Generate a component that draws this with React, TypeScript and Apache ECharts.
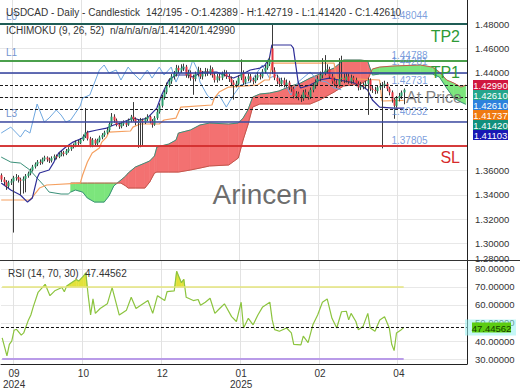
import React, { useEffect, useRef } from 'react';
import * as echarts from 'echarts';

const FONT = '"Liberation Sans", Arial, Helvetica, sans-serif';

const slotCount = 195;
const xTickIdx = [5, 34, 67, 100, 133, 166];
const xTickText = ['09\n2024', '10', '12', '01\n2025', '02', '04'];

const priceTicks = [1.3, 1.32, 1.34, 1.36, 1.38, 1.4, 1.42, 1.44, 1.46, 1.48];
const priceTickLabels = [1.3, 1.32, 1.34, 1.36, 1.44, 1.46, 1.48];
const priceFloorLabel = 1.28;
const rsiTicks = [30, 40, 50, 60, 70, 80];

// [open, close, low, high]
const candles: number[][] = [
  [1.3560, 1.3525, 1.3505, 1.3575], [1.3525, 1.3505, 1.3480, 1.3545], [1.3505, 1.3470, 1.3440, 1.3520],
  [1.3470, 1.3500, 1.3455, 1.3515], [1.3500, 1.3510, 1.3480, 1.3530], [1.3510, 1.3540, 1.3090, 1.3555],
  [1.3540, 1.3545, 1.3515, 1.3570], [1.3545, 1.3525, 1.3500, 1.3560], [1.3525, 1.3515, 1.3400, 1.3540],
  [1.3515, 1.3530, 1.3410, 1.3550], [1.3530, 1.3555, 1.3420, 1.3570], [1.3555, 1.3575, 1.3540, 1.3590],
  [1.3575, 1.3600, 1.3560, 1.3615], [1.3600, 1.3630, 1.3590, 1.3645], [1.3630, 1.3650, 1.3615, 1.3665],
  [1.3650, 1.3670, 1.3635, 1.3685], [1.3670, 1.3665, 1.3645, 1.3690], [1.3665, 1.3690, 1.3650, 1.3705],
  [1.3690, 1.3705, 1.3675, 1.3720], [1.3705, 1.3690, 1.3670, 1.3715], [1.3690, 1.3680, 1.3660, 1.3705],
  [1.3680, 1.3700, 1.3665, 1.3715], [1.3700, 1.3715, 1.3685, 1.3730], [1.3715, 1.3710, 1.3690, 1.3730],
  [1.3710, 1.3730, 1.3700, 1.3745], [1.3730, 1.3745, 1.3715, 1.3760], [1.3745, 1.3735, 1.3715, 1.3760],
  [1.3735, 1.3760, 1.3725, 1.3775], [1.3760, 1.3775, 1.3745, 1.3790], [1.3775, 1.3795, 1.3760, 1.3810],
  [1.3795, 1.3805, 1.3780, 1.3820], [1.3805, 1.3830, 1.3790, 1.3845], [1.3830, 1.3825, 1.3805, 1.3850],
  [1.3825, 1.3850, 1.3815, 1.3865], [1.3850, 1.3880, 1.3840, 1.3895], [1.3880, 1.3910, 1.3865, 1.4110],
  [1.3910, 1.3860, 1.3845, 1.3925], [1.3860, 1.3800, 1.3790, 1.3875], [1.3800, 1.3850, 1.3790, 1.3865],
  [1.3850, 1.3820, 1.3800, 1.3860], [1.3820, 1.3845, 1.3805, 1.3860], [1.3845, 1.3870, 1.3830, 1.3885],
  [1.3870, 1.3890, 1.3855, 1.3905], [1.3890, 1.3910, 1.3875, 1.3925], [1.3910, 1.3930, 1.3895, 1.3950],
  [1.3930, 1.3980, 1.3915, 1.3995], [1.3980, 1.4040, 1.3965, 1.4070], [1.4040, 1.4010, 1.3990, 1.4060],
  [1.4010, 1.3975, 1.3960, 1.4025], [1.3975, 1.3960, 1.3940, 1.3990], [1.3960, 1.3985, 1.3945, 1.4000],
  [1.3985, 1.3990, 1.3965, 1.4010], [1.3990, 1.3975, 1.3955, 1.4005], [1.3975, 1.4010, 1.3965, 1.4025],
  [1.4010, 1.4040, 1.3995, 1.4055], [1.4040, 1.4020, 1.4000, 1.4160], [1.4020, 1.3990, 1.3970, 1.4035],
  [1.3990, 1.4000, 1.3785, 1.4020], [1.4000, 1.4010, 1.3790, 1.4030], [1.4010, 1.3995, 1.3800, 1.4025],
  [1.3995, 1.4020, 1.3980, 1.4035], [1.4020, 1.4040, 1.4005, 1.4060], [1.4040, 1.4005, 1.3985, 1.4050],
  [1.4005, 1.3975, 1.3950, 1.4020], [1.3975, 1.4030, 1.3965, 1.4045], [1.4030, 1.4080, 1.4015, 1.4095],
  [1.4080, 1.4130, 1.4065, 1.4150], [1.4130, 1.4200, 1.4115, 1.4220], [1.4200, 1.4240, 1.4180, 1.4260],
  [1.4240, 1.4300, 1.4225, 1.4320], [1.4300, 1.4330, 1.4280, 1.4355], [1.4330, 1.4370, 1.4310, 1.4390],
  [1.4370, 1.4390, 1.4345, 1.4415], [1.4390, 1.4440, 1.4370, 1.4465], [1.4440, 1.4420, 1.4395, 1.4460],
  [1.4420, 1.4440, 1.4400, 1.4470], [1.4440, 1.4450, 1.4415, 1.4475], [1.4450, 1.4380, 1.4360, 1.4465],
  [1.4380, 1.4400, 1.4355, 1.4425], [1.4400, 1.4360, 1.4335, 1.4420], [1.4360, 1.4350, 1.4220, 1.4385],
  [1.4350, 1.4390, 1.4330, 1.4410], [1.4390, 1.4420, 1.4370, 1.4450], [1.4420, 1.4370, 1.4350, 1.4440],
  [1.4370, 1.4390, 1.4345, 1.4415], [1.4390, 1.4410, 1.4370, 1.4440], [1.4410, 1.4400, 1.4375, 1.4435],
  [1.4400, 1.4430, 1.4380, 1.4460], [1.4430, 1.4380, 1.4360, 1.4445], [1.4380, 1.4340, 1.4320, 1.4400],
  [1.4340, 1.4370, 1.4320, 1.4390], [1.4370, 1.4360, 1.4335, 1.4395], [1.4360, 1.4390, 1.4340, 1.4410],
  [1.4390, 1.4400, 1.4370, 1.4425], [1.4400, 1.4370, 1.4350, 1.4420], [1.4370, 1.4350, 1.4325, 1.4390],
  [1.4350, 1.4320, 1.4300, 1.4370], [1.4320, 1.4300, 1.4180, 1.4340], [1.4300, 1.4310, 1.4280, 1.4335],
  [1.4310, 1.4360, 1.4295, 1.4380], [1.4360, 1.4400, 1.4340, 1.4510], [1.4400, 1.4320, 1.4300, 1.4420],
  [1.4320, 1.4350, 1.4305, 1.4370], [1.4350, 1.4370, 1.4330, 1.4395], [1.4370, 1.4340, 1.4320, 1.4390],
  [1.4340, 1.4330, 1.4305, 1.4360], [1.4330, 1.4360, 1.4315, 1.4380], [1.4360, 1.4380, 1.4340, 1.4405],
  [1.4380, 1.4370, 1.4345, 1.4400], [1.4370, 1.4410, 1.4355, 1.4430], [1.4410, 1.4440, 1.4395, 1.4465],
  [1.4440, 1.4470, 1.4425, 1.4495], [1.4470, 1.4510, 1.4455, 1.4530], [1.4600, 1.4420, 1.4390, 1.4793],
  [1.4420, 1.4360, 1.4340, 1.4445], [1.4360, 1.4330, 1.4305, 1.4385], [1.4330, 1.4310, 1.4285, 1.4355],
  [1.4310, 1.4340, 1.4290, 1.4360], [1.4340, 1.4300, 1.4280, 1.4360], [1.4300, 1.4320, 1.4280, 1.4345],
  [1.4320, 1.4280, 1.4260, 1.4335], [1.4280, 1.4270, 1.4245, 1.4300], [1.4270, 1.4210, 1.4190, 1.4285],
  [1.4210, 1.4230, 1.4190, 1.4250], [1.4230, 1.4200, 1.4175, 1.4245], [1.4200, 1.4190, 1.4160, 1.4220],
  [1.4190, 1.4240, 1.4170, 1.4260], [1.4240, 1.4220, 1.4195, 1.4265], [1.4220, 1.4200, 1.4180, 1.4245],
  [1.4200, 1.4260, 1.4185, 1.4280], [1.4260, 1.4290, 1.4240, 1.4315], [1.4290, 1.4320, 1.4270, 1.4345],
  [1.4320, 1.4350, 1.4300, 1.4375], [1.4350, 1.4380, 1.4330, 1.4410], [1.4380, 1.4400, 1.4355, 1.4520],
  [1.4400, 1.4420, 1.4380, 1.4545], [1.4420, 1.4430, 1.4395, 1.4470], [1.4430, 1.4370, 1.4350, 1.4450],
  [1.4370, 1.4330, 1.4310, 1.4390], [1.4330, 1.4310, 1.4290, 1.4360], [1.4310, 1.4300, 1.4275, 1.4340],
  [1.4300, 1.4350, 1.4285, 1.4520], [1.4350, 1.4360, 1.4325, 1.4540], [1.4360, 1.4340, 1.4315, 1.4395],
  [1.4340, 1.4370, 1.4320, 1.4400], [1.4370, 1.4330, 1.4310, 1.4395], [1.4330, 1.4360, 1.4310, 1.4385],
  [1.4360, 1.4340, 1.4315, 1.4375], [1.4340, 1.4310, 1.4290, 1.4360], [1.4310, 1.4280, 1.4255, 1.4330],
  [1.4280, 1.4300, 1.4260, 1.4325], [1.4300, 1.4290, 1.4265, 1.4320], [1.4290, 1.4310, 1.4270, 1.4335],
  [1.4310, 1.4340, 1.4055, 1.4360], [1.4340, 1.4270, 1.4250, 1.4355], [1.4270, 1.4260, 1.4235, 1.4295],
  [1.4260, 1.4250, 1.4225, 1.4285], [1.4250, 1.4280, 1.4230, 1.4300], [1.4280, 1.4290, 1.4260, 1.4315],
  [1.4290, 1.4300, 1.37805, 1.4325], [1.4300, 1.4310, 1.4275, 1.4335], [1.4310, 1.4270, 1.4250, 1.4325],
  [1.4270, 1.4240, 1.4215, 1.4285], [1.4240, 1.4180, 1.4155, 1.4255], [1.4180, 1.4130, 1.40232, 1.4195],
  [1.4130, 1.4190, 1.4115, 1.4210], [1.4190, 1.4210, 1.4165, 1.4235], [1.4210, 1.42389, 1.4185, 1.4255],
  [1.42389, 1.42610, 1.41420, 1.42719],
];

// Ichimoku lines, read as [bar index, price]
const tenkanPts: number[][] = [
  [0, 1.3496], [4, 1.3439], [8, 1.3398], [11, 1.3340], [13, 1.3373], [15, 1.3537], [16, 1.3578], [20, 1.3603],
  [22, 1.3668], [24, 1.3742], [27, 1.3791], [30, 1.3832], [34, 1.3865], [36, 1.3914], [40, 1.3931], [44, 1.3947],
  [47, 1.3972], [50, 1.3988], [53, 1.4013], [55, 1.4029], [58, 1.4013], [61, 1.4029], [63, 1.4070], [65, 1.4111],
  [67, 1.4218], [70, 1.4341], [73, 1.4382], [78, 1.4382], [80, 1.4365], [84, 1.4406], [90, 1.4406], [93, 1.4382],
  [97, 1.4357], [100, 1.4382], [104, 1.4423], [108, 1.4439], [110, 1.4460], [112, 1.4521], [113, 1.4628],
  [121, 1.4628], [122, 1.4603], [124, 1.4324], [125, 1.4275], [129, 1.4300], [133, 1.4341], [137, 1.4357],
  [141, 1.4341], [146, 1.4324], [150, 1.4300], [153, 1.4259], [155, 1.4177], [158, 1.4119], [164, 1.4111],
  [168, 1.41103],
];
const kijunPts: number[][] = [
  [0, 1.3357], [12, 1.3357], [13, 1.3381], [16, 1.3455], [19, 1.3480], [33, 1.3496], [34, 1.3562], [36, 1.3668],
  [38, 1.3742], [41, 1.3783], [42, 1.3832], [44, 1.3873], [45, 1.3914], [54, 1.3923], [55, 1.3955], [58, 1.3980],
  [66, 1.3980], [68, 1.4013], [73, 1.4029], [75, 1.4119], [88, 1.4136], [89, 1.4193], [91, 1.4242], [95, 1.4283],
  [107, 1.4300], [110, 1.4341], [112, 1.4341], [113, 1.4480], [139, 1.4480], [140, 1.4357], [158, 1.4341],
  [159, 1.4169], [168, 1.41737],
];
const chikouPts: number[][] = [
  [0, 1.3906], [4, 1.3955], [6, 1.3914], [8, 1.3873], [10, 1.3931], [12, 1.3906], [15, 1.4144], [18, 1.3996],
  [20, 1.4029], [23, 1.4095], [25, 1.4054], [27, 1.3996], [29, 1.4013], [31, 1.4070], [33, 1.4128], [34, 1.4193],
  [37, 1.4218], [41, 1.4423], [43, 1.4464], [45, 1.4398], [48, 1.4423], [50, 1.4341], [53, 1.4447], [55, 1.4398],
  [58, 1.4341], [61, 1.4423], [63, 1.4357], [66, 1.4447], [68, 1.4382], [71, 1.4447], [73, 1.4324], [76, 1.4456],
  [78, 1.4382], [80, 1.4505], [82, 1.4423], [83, 1.4324], [86, 1.4218], [88, 1.4177], [91, 1.4218], [94, 1.4119],
  [97, 1.4218], [100, 1.4300], [104, 1.4324], [107, 1.4406], [109, 1.4464], [112, 1.4357], [115, 1.4382],
  [118, 1.4324], [121, 1.4218], [124, 1.4324], [126, 1.4357], [129, 1.4406], [132, 1.4341], [136, 1.4324],
  [139, 1.4275], [142, 1.4261],
];
// cloud: [bar index, senkou A, senkou B]
const cloudPts: (number | null)[][] = [
  [0, 1.3709, null], [4, 1.3668, null], [8, 1.3660, null], [12, 1.3603, null], [15, 1.3537, null],
  [18, 1.3472, null], [20, 1.3422, null], [25, 1.3406, null], [28, 1.3406, null],
  [29, 1.3422, 1.3496], [31, 1.3439, 1.3496], [34, 1.3422, 1.3496], [36, 1.3373, 1.3496], [39, 1.3340, 1.3496],
  [43, 1.3340, 1.3496], [45, 1.3390, 1.3496], [47, 1.3472, 1.3496], [50, 1.3521, 1.3496], [52, 1.3554, 1.3472],
  [53, 1.3578, 1.3455], [56, 1.3627, 1.3455], [60, 1.3660, 1.3455], [62, 1.3677, 1.3504], [64, 1.3718, 1.3578],
  [65, 1.3791, 1.3586], [70, 1.3816, 1.3586], [73, 1.3849, 1.3586], [74, 1.3906, 1.3586], [79, 1.3931, 1.3603],
  [83, 1.3972, 1.3619], [87, 1.3988, 1.3636], [95, 1.3980, 1.3644], [99, 1.3988, 1.3701], [101, 1.4029, 1.3849],
  [103, 1.4095, 1.3972], [105, 1.4201, 1.4119], [108, 1.4226, 1.4144], [112, 1.4234, 1.4144], [116, 1.4251, 1.4144],
  [121, 1.4292, 1.4144], [125, 1.4316, 1.4144], [129, 1.4357, 1.4144], [133, 1.4390, 1.4177], [139, 1.4439, 1.4242],
  [143, 1.4505, 1.4292], [150, 1.4505, 1.4308], [153, 1.4497, 1.4341], [155, 1.4382, 1.4431], [158, 1.4390, 1.4447],
  [164, 1.4390, 1.4456], [175, 1.4390, 1.4464], [180, 1.4390, 1.4447], [183, 1.4365, 1.4406], [186, 1.4275, 1.4341],
  [189, 1.4193, 1.4316], [192, 1.4160, 1.4283], [194, 1.4142, 1.4299],
];

// RSI (14) read as [bar index, value]
const rsiPts: number[][] = [
  [0, 41.8], [2, 31.8], [3, 38.2], [4, 40.0], [5, 46.0], [6, 46.5], [8, 43.3], [9, 44.5], [11, 51.7], [12, 54.4],
  [13, 58.9], [15, 66.9], [18, 71.4], [20, 65.1], [22, 67.8], [25, 69.6], [26, 67.3], [27, 70.5], [29, 72.3],
  [31, 74.1], [32, 73.2], [34, 75.9], [35, 77.7], [36, 65.1], [37, 54.4], [38, 63.3], [39, 55.3], [41, 58.0],
  [44, 60.6], [46, 69.6], [49, 54.4], [52, 57.1], [54, 64.2], [56, 58.0], [58, 59.8], [61, 62.4], [63, 55.3],
  [65, 65.1], [68, 62.4], [69, 67.3], [72, 67.8], [73, 78.6], [75, 72.3], [76, 74.1], [77, 64.2], [80, 62.4],
  [82, 63.0], [83, 59.8], [85, 61.5], [87, 63.7], [89, 55.3], [91, 58.0], [93, 60.6], [96, 53.5], [98, 50.8],
  [100, 61.5], [101, 47.2], [103, 52.6], [105, 49.0], [107, 54.4], [109, 58.9], [112, 61.5], [113, 51.7],
  [114, 46.3], [116, 45.4], [119, 47.2], [121, 44.5], [122, 38.2], [125, 37.9], [126, 42.7], [128, 39.1],
  [130, 49.0], [132, 54.4], [134, 61.5], [136, 63.3], [138, 52.6], [140, 47.2], [142, 56.2], [144, 56.5],
  [145, 51.7], [146, 55.3], [148, 50.8], [149, 46.3], [151, 48.1], [153, 55.3], [154, 47.2], [156, 45.4],
  [158, 51.7], [160, 53.5], [162, 47.2], [163, 38.2], [164, 34.7], [165, 44.5], [167, 46.3], [168, 47.44562],
];
const rsiUpper = 70;
const rsiLower = 30;

// horizontal levels
const levelValues = [1.48044, 1.44788, 1.44281, 1.40232, 1.37805];
const levelLeftTags = ['L0', 'L1', '', 'L3', ''];
const levelRightTags = ['TP2', 'TP1', '', '', 'SL'];
const markerValues = [1.4299, 1.42731, 1.4261, 1.41737, 1.4142, 1.41103];
const markerTags = ['', 'At Price', '', '', '', ''];
const levelLabelValues = [1.48044, 1.44788, 1.44281, 1.42731, 1.40232, 1.37805];
const levelLabelSlot = 164;

// ---- layout / styles ----
const MAIN = { left: 0, right: 53, top: 0, height: 260 };
const SUB = { left: 0, right: 53, top: 261, height: 106 };
const LEVEL_COLORS = ['#1f5c55', '#3f9a40', '#2f3e9c', '#3d4aa2', '#d32f2f'];
const RIGHT_TAG_COLORS = ['#2e9a36', '#2e9a36', '', '', '#d62a2a'];
const BOX_COLORS = ['#d0173f', '#24a58c', '#2d82dc', '#ef7a12', '#11907c', '#1818b4'];
const RED_CLOUD = '#f37171';
const GREEN_CLOUD = '#7ce57c';

const last = candles[candles.length - 1];
const lastCloud = cloudPts[cloudPts.length - 1];
const lastRsi = rsiPts[rsiPts.length - 1][1];
const axisBoxValues = [
  lastCloud[2] as number,
  last[1],
  chikouPts[chikouPts.length - 1][1],
  kijunPts[kijunPts.length - 1][1],
  lastCloud[1] as number,
  tenkanPts[tenkanPts.length - 1][1],
];

function lerp(a: number[], b: number[], t: number) {
  return [a[0] + (b[0] - a[0]) * t, a[1] + (b[1] - a[1]) * t];
}

function buildOption(): any {
  const cats = Array.from({ length: slotCount }, (_, i) => String(i));
  const isTick = (i: number) => xTickIdx.includes(i);

  const cloudSegs: number[][] = [];
  for (let k = 0; k < cloudPts.length - 1; k++) {
    const a = cloudPts[k], b = cloudPts[k + 1];
    if (a[2] == null || b[2] == null) continue;
    cloudSegs.push([a[0] as number, a[1] as number, a[2] as number, b[0] as number, b[1] as number, b[2] as number]);
  }
  const rsiSegs: number[][] = [];
  for (let k = 0; k < rsiPts.length - 1; k++) {
    rsiSegs.push([rsiPts[k][0], rsiPts[k][1], rsiPts[k + 1][0], rsiPts[k + 1][1]]);
  }

  const levelLines: any[] = [];
  levelValues.forEach((v, k) => {
    const ls = { color: LEVEL_COLORS[k], width: k === 0 ? 2 : 1.5, type: 'solid' };
    levelLines.push({
      yAxis: v, lineStyle: ls,
      label: { show: !!levelLeftTags[k], position: 'insideStartTop', formatter: levelLeftTags[k], color: '#7395cf', fontSize: 10, distance: [6, 3] },
    });
    if (levelRightTags[k]) {
      levelLines.push({
        yAxis: v, lineStyle: ls,
        label: { show: true, position: 'insideEndBottom', formatter: levelRightTags[k], color: RIGHT_TAG_COLORS[k], fontSize: 16, distance: [7, 4] },
      });
    }
  });
  markerValues.forEach((v, k) => {
    levelLines.push({
      yAxis: v, lineStyle: { color: '#1a1a1a', width: 1, type: [3, 2] },
      label: markerTags[k]
        ? { show: true, position: 'insideEndBottom', formatter: markerTags[k], color: 'rgba(110,110,110,0.85)', fontSize: 16, distance: [5, 4] }
        : { show: false },
    });
  });

  return {
    animation: false,
    textStyle: { fontFamily: FONT },
    grid: [
      { left: MAIN.left, right: MAIN.right, top: MAIN.top, height: MAIN.height },
      { left: SUB.left, right: SUB.right, top: SUB.top, height: SUB.height },
    ],
    xAxis: [
      {
        type: 'category', gridIndex: 0, data: cats, boundaryGap: true,
        axisLine: { show: false }, axisTick: { show: false }, axisLabel: { show: false },
        splitLine: { show: true, interval: (i: number) => isTick(i), lineStyle: { color: '#e2e2e2' } },
      },
      {
        type: 'category', gridIndex: 1, data: cats, boundaryGap: true,
        axisLine: { show: true, lineStyle: { color: '#222' } }, axisTick: { show: false },
        axisLabel: {
          interval: (i: number) => isTick(i),
          formatter: (_v: string, i: number) => (isTick(i) ? xTickText[xTickIdx.indexOf(i)] : ''),
          color: '#333', fontSize: 10, lineHeight: 11, margin: 4,
        },
        splitLine: { show: true, interval: (i: number) => isTick(i), lineStyle: { color: '#e2e2e2' } },
      },
    ],
    yAxis: [
      {
        type: 'value', gridIndex: 0, position: 'right', min: 1.2865, max: 1.4997,
        axisLine: { show: true, lineStyle: { color: '#222' } },
        axisTick: { show: false, customValues: priceTicks },
        axisLabel: {
          customValues: priceTickLabels, formatter: (v: number) => v.toFixed(5),
          color: '#333', fontSize: 9.5, margin: 8,
        },
        splitLine: { show: true, lineStyle: { color: '#e8e8e8' } },
      },
      {
        type: 'value', gridIndex: 1, position: 'right', min: 27.3, max: 84.3,
        axisLine: { show: true, lineStyle: { color: '#222' } },
        axisTick: { show: false, customValues: rsiTicks },
        axisLabel: { customValues: rsiTicks, formatter: (v: number) => v.toFixed(5), color: '#333', fontSize: 9.5, margin: 8 },
        splitLine: { show: true, lineStyle: { color: '#e8e8e8' } },
      },
    ],
    series: [
      {
        type: 'custom', name: 'cloud', xAxisIndex: 0, yAxisIndex: 0, z: 1, silent: true,
        data: cloudSegs,
        encode: { x: [0, 3], y: [1, 2, 4, 5] },
        renderItem: (_p: any, api: any) => {
          const i0 = api.value(0), a0 = api.value(1), b0 = api.value(2);
          const i1 = api.value(3), a1 = api.value(4), b1 = api.value(5);
          const pA0 = api.coord([i0, a0]), pB0 = api.coord([i0, b0]);
          const pA1 = api.coord([i1, a1]), pB1 = api.coord([i1, b1]);
          const d0 = a0 - b0, d1 = a1 - b1;
          const poly = (pts: number[][], up: boolean) => ({
            type: 'polygon', shape: { points: pts },
            style: { fill: up ? RED_CLOUD : GREEN_CLOUD, stroke: up ? RED_CLOUD : GREEN_CLOUD, lineWidth: 0.6 },
          });
          if (d0 * d1 >= 0) {
            return { type: 'group', children: [poly([pA0, pA1, pB1, pB0], d0 + d1 > 0)] };
          }
          const t = d0 / (d0 - d1);
          const c = lerp(pA0, pA1, t);
          return { type: 'group', children: [poly([pA0, c, pB0], d0 > 0), poly([c, pA1, pB1], d1 > 0)] };
        },
      },
      {
        type: 'line', name: 'spanA', xAxisIndex: 0, yAxisIndex: 0, z: 2, silent: true, showSymbol: false,
        data: cloudPts.map((p) => [p[0], p[1]]), lineStyle: { color: '#3a9079', width: 1 },
      },
      {
        type: 'line', name: 'spanB', xAxisIndex: 0, yAxisIndex: 0, z: 2, silent: true, showSymbol: false,
        data: cloudPts.filter((p) => p[2] != null).map((p) => [p[0], p[2]]), lineStyle: { color: '#c2564c', width: 1 },
      },
      {
        type: 'line', name: 'chikou', xAxisIndex: 0, yAxisIndex: 0, z: 3, silent: true, showSymbol: false,
        data: chikouPts, lineStyle: { color: '#6fa8e0', width: 1 },
      },
      {
        type: 'line', name: 'kijun', xAxisIndex: 0, yAxisIndex: 0, z: 3, silent: true, showSymbol: false,
        data: kijunPts, lineStyle: { color: '#f5a060', width: 1.2 },
      },
      {
        type: 'line', name: 'tenkan', xAxisIndex: 0, yAxisIndex: 0, z: 3, silent: true, showSymbol: false,
        data: tenkanPts, lineStyle: { color: '#2e2e98', width: 1.2 },
      },
      {
        type: 'custom', name: 'candles', xAxisIndex: 0, yAxisIndex: 0, z: 4, silent: true,
        data: candles.map((c, i) => [i, c[0], c[1], c[2], c[3]]),
        encode: { x: 0, y: [1, 2, 3, 4] },
        renderItem: (_p: any, api: any) => {
          const i = api.value(0), o = api.value(1), c = api.value(2), l = api.value(3), h = api.value(4);
          const x = Math.round(api.coord([i, o])[0]) + 0.5;
          const yo = api.coord([i, o])[1], yc = api.coord([i, c])[1];
          const yl = api.coord([i, l])[1], yh = api.coord([i, h])[1];
          const up = c >= o;
          const top = Math.min(yo, yc);
          const hgt = Math.max(1, Math.abs(yc - yo));
          return {
            type: 'group', children: [
              { type: 'line', shape: { x1: x, y1: yh, x2: x, y2: yl }, style: { stroke: '#3b3b3b', lineWidth: 1 } },
              { type: 'rect', shape: { x: x - 1, y: top, width: 2, height: hgt }, style: { fill: up ? '#2a9e6c' : '#e2323f' } },
            ],
          };
        },
      },
      {
        type: 'scatter', name: 'levels', xAxisIndex: 0, yAxisIndex: 0, z: 5, silent: true,
        symbolSize: 1, itemStyle: { color: 'rgba(0,0,0,0)' },
        data: levelLabelValues.map((v) => [levelLabelSlot, v]),
        label: {
          show: true, position: [-2, -12], formatter: (p: any) => (p.value[1] as number).toFixed(5),
          color: '#5a86d4', fontSize: 10,
        },
        markLine: { symbol: ['none', 'none'], silent: true, animation: false, data: levelLines },
      },
      {
        type: 'custom', name: 'rsiUpperFill', xAxisIndex: 1, yAxisIndex: 1, z: 2, silent: true,
        data: rsiSegs,
        encode: { x: [0, 2], y: [1, 3] },
        renderItem: (_p: any, api: any) => {
          const i0 = api.value(0), v0 = api.value(1), i1 = api.value(2), v1 = api.value(3);
          if (v0 <= rsiUpper && v1 <= rsiUpper) return null;
          const p0 = api.coord([i0, v0]), p1 = api.coord([i1, v1]);
          const b0 = api.coord([i0, rsiUpper]), b1 = api.coord([i1, rsiUpper]);
          let pts: number[][];
          if (v0 > rsiUpper && v1 > rsiUpper) pts = [b0, p0, p1, b1];
          else if (v0 > rsiUpper) pts = [b0, p0, lerp(b0, b1, (v0 - rsiUpper) / (v0 - v1))];
          else pts = [lerp(b0, b1, (rsiUpper - v0) / (v1 - v0)), p1, b1];
          return { type: 'polygon', shape: { points: pts }, style: { fill: '#e2e23a', stroke: '#e2e23a', lineWidth: 0.5 } };
        },
      },
      {
        type: 'line', name: 'rsi', xAxisIndex: 1, yAxisIndex: 1, z: 3, silent: true, showSymbol: false,
        data: rsiPts, lineStyle: { color: '#8cc43f', width: 1.2 },
        markLine: {
          symbol: ['none', 'none'], silent: true, animation: false, label: { show: false },
          data: [
            [{ coord: [0, rsiUpper], lineStyle: { color: '#e4e47c', width: 1.5, type: 'solid' } }, { coord: [candles.length - 1, rsiUpper] }],
            [{ coord: [0, rsiLower], lineStyle: { color: '#b99be8', width: 2, type: 'solid' } }, { coord: [candles.length - 1, rsiLower] }],
            { yAxis: lastRsi, lineStyle: { color: '#111', width: 1, type: [3, 2] } },
          ],
        },
      },
    ],
  };
}

export default function App() {
  const ref = useRef<HTMLDivElement>(null);
  useEffect(() => {
    const el = ref.current;
    if (!el) return;
    const chart = echarts.init(el, null, { renderer: 'svg' });
    chart.setOption(buildOption());

    const axisX = 520 - MAIN.right;
    const y0 = chart.convertToPixel({ yAxisIndex: 0 }, axisBoxValues[0]) as number;
    const yr = chart.convertToPixel({ yAxisIndex: 1 }, lastRsi) as number;
    const boxes = axisBoxValues.map((v, k) => ({
      type: 'group', x: axisX + 6, y: y0 + k * 10 - 5, z: 50,
      children: [
        { type: 'rect', shape: { x: 0, y: 0, width: 35, height: 10 }, style: { fill: BOX_COLORS[k] } },
        { type: 'text', style: { text: v.toFixed(5), x: 17.5, y: 5.5, align: 'center', verticalAlign: 'middle', fill: '#fff', fontSize: 9.5, fontFamily: FONT } },
      ],
    }));
    const txt = (text: string, x: number, y: number, extra: any = {}) => ({
      type: 'text', z: 60, style: { text, x, y, fill: '#333', fontSize: 10, fontFamily: FONT, verticalAlign: 'top', ...extra },
    });
    const ohlc = `142/195 - O:${last[0].toFixed(5)} - H:${last[3].toFixed(5)} - L:${last[2].toFixed(5)} - C:${last[1].toFixed(5)}`;
    const ichi = `n/a/n/a/n/a/${(lastCloud[1] as number).toFixed(5)}/${(lastCloud[2] as number).toFixed(5)}`;
    // the lowest price tick sits below the panel floor; its label is pinned to the panel's bottom edge
    const floorY = MAIN.top + MAIN.height - 2;
    chart.setOption({
      graphic: [
        { type: 'text', z: 0, silent: true, style: { text: 'Arincen', x: 260, y: 194, align: 'center', verticalAlign: 'middle', fill: 'rgba(70,70,70,0.8)', fontSize: 28, fontFamily: FONT } },
        txt(priceFloorLabel.toFixed(5), axisX + 8, floorY, { verticalAlign: 'middle', fontSize: 9.5 }),
        { type: 'line', z: 40, shape: { x1: 0, y1: MAIN.top + MAIN.height + 0.5, x2: 520, y2: MAIN.top + MAIN.height + 0.5 }, style: { stroke: '#333', lineWidth: 1 } },
        txt('USDCAD - Daily - Candlestick', 6, 7),
        txt(ohlc, 146, 7),
        txt('ICHIMOKU (9, 26, 52)', 6, 25),
        txt(ichi, 110, 25),
        txt('RSI (14, 70, 30)', 8, 268),
        txt(lastRsi.toFixed(5), 85, 268),
        { type: 'rect', z: 48, shape: { x: axisX - 2, y: yr - 8, width: 51, height: 16 }, style: { fill: 'rgba(150,240,240,0.55)' } },
        { type: 'rect', z: 49, shape: { x: axisX + 5, y: yr - 5, width: 39, height: 10 }, style: { fill: '#5ccc12' } },
        { type: 'text', z: 50, style: { text: lastRsi.toFixed(5), x: axisX + 24.5, y: yr + 0.5, align: 'center', verticalAlign: 'middle', fill: '#123d00', fontSize: 9.5, fontFamily: FONT } },
        ...boxes,
      ],
    });
    return () => chart.dispose();
  }, []);
  return <div ref={ref} style={{ position: 'fixed', left: 0, top: 0, width: 520, height: 390, background: '#fff' }} />;
}
